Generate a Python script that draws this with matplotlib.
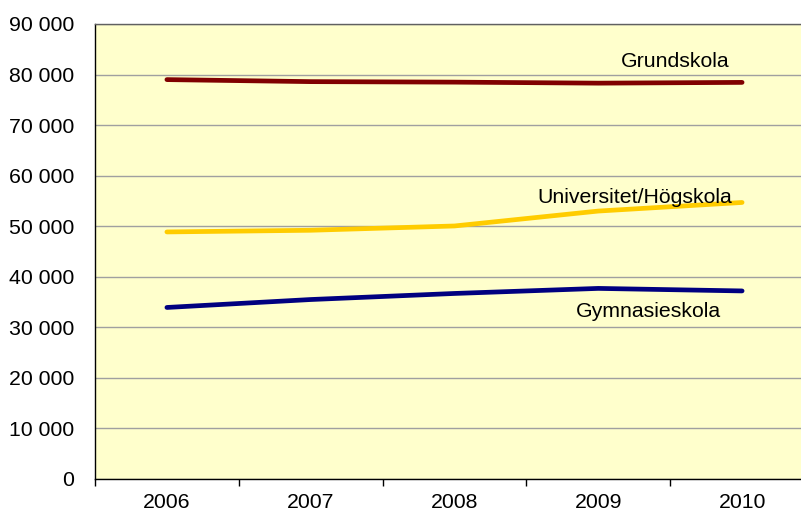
import matplotlib
matplotlib.use("Agg")
import matplotlib.pyplot as plt
from matplotlib.ticker import FuncFormatter, FixedLocator

years = ["2006", "2007", "2008", "2009", "2010"]
grundskola = [79000, 78600, 78500, 78300, 78450]
universitet = [48870, 49200, 50050, 53000, 54700]
gymnasieskola = [33930, 35500, 36700, 37700, 37200]

plt.rcParams['font.family'] = ['Liberation Sans', 'DejaVu Sans']
FS = 15.3

fig = plt.figure(figsize=(8.01, 5.13), dpi=100)
ax = fig.add_axes([95/801, 34/513, 719/801, 455/513])
ax.set_facecolor('#FFFFCC')

x = list(range(len(years)))
ax.plot(x, grundskola, color='#800000', lw=3.4, solid_capstyle='round', zorder=3)
ax.plot(x, universitet, color='#FFCC00', lw=3.4, solid_capstyle='round', zorder=3)
ax.plot(x, gymnasieskola, color='#000080', lw=3.4, solid_capstyle='round', zorder=3)

ax.set_xlim(-0.5, len(years) - 0.5)
ax.set_ylim(0, 90000)
ax.set_yticks(range(0, 90001, 10000))
ax.yaxis.set_major_formatter(FuncFormatter(lambda v, p: f"{int(v):,}".replace(",", " ")))
ax.grid(axis='y', color='#A0A0A0', lw=1, zorder=1)
ax.set_axisbelow(True)

ax.set_xticks(x)
ax.set_xticklabels(years)
ax.xaxis.set_minor_locator(FixedLocator([i - 0.5 for i in range(len(years) + 1)]))
ax.tick_params(axis='x', which='major', length=0, pad=10, labelsize=FS)
ax.tick_params(axis='x', which='minor', length=5, width=1, color='black', direction='out')
ax.tick_params(axis='y', length=0, pad=15, labelsize=FS)

for s in ['left', 'bottom']:
    ax.spines[s].set_color('black')
    ax.spines[s].set_linewidth(1)
ax.spines['top'].set_color('#606060')
ax.spines['top'].set_linewidth(1)
ax.spines['right'].set_visible(False)

ax.text(3.535, 81550, "Grundskola", fontsize=FS, ha='center', va='baseline')
ax.text(3.253, 54530, "Universitet/Högskola", fontsize=FS, ha='center', va='baseline')
ax.text(3.35, 32100, "Gymnasieskola", fontsize=FS, ha='center', va='baseline')

fig.savefig("out.png", dpi=100)
